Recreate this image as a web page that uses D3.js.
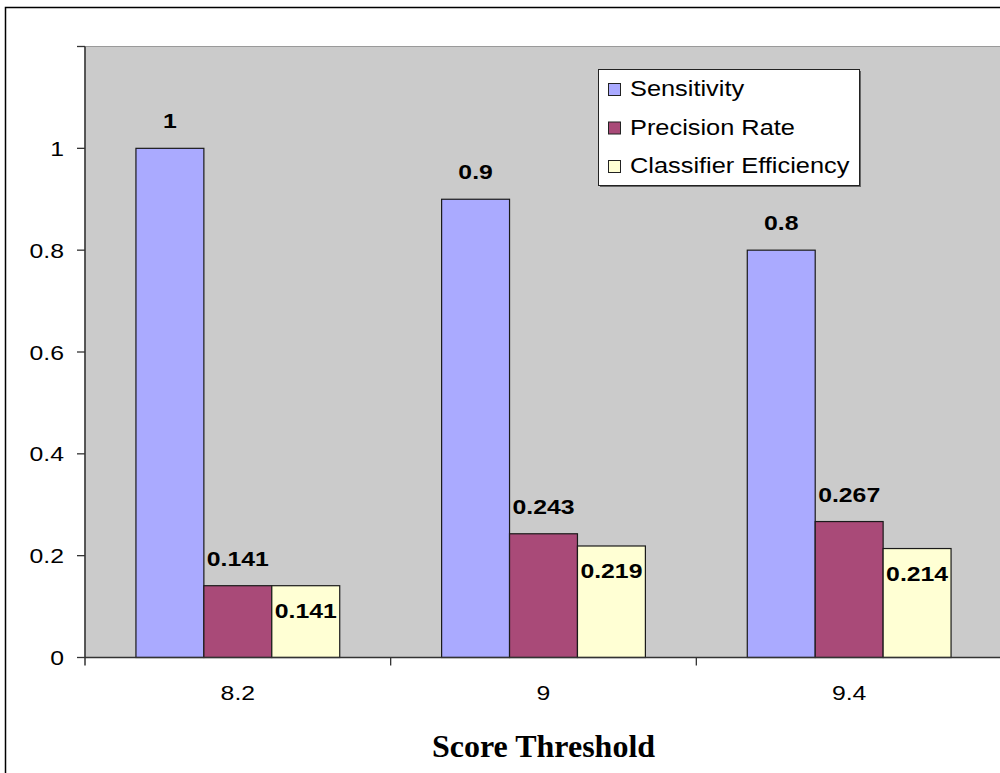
<!DOCTYPE html>
<html>
<head>
<meta charset="utf-8">
<script src="https://cdn.jsdelivr.net/npm/d3@7"></script>
<style>
  html, body { margin: 0; padding: 0; background: #fff; }
  svg { display: block; }
</style>
</head>
<body>
<svg id="chart" width="1000" height="773"></svg>
<script>
// Score thresholds on the category axis
const thresholds = ["8.2", "9", "9.4"];
// Series names and values per threshold
const seriesNames = ["Sensitivity", "Precision Rate", "Classifier Efficiency"];
const sensitivity = [1, 0.9, 0.8];
const precisionRate = [0.141, 0.243, 0.267];
const classifierEfficiency = [0.141, 0.219, 0.214];
// Value axis ticks
const yTicks = [0, 0.2, 0.4, 0.6, 0.8, 1, 1.2];
const yTickLabels = ["0", "0.2", "0.4", "0.6", "0.8", "1", ""];
const xTitle = "Score Threshold";

const seriesValues = [sensitivity, precisionRate, classifierEfficiency];
const colors = ["#AAAAFF", "#A94A78", "#FFFFD4"];

const svg = d3.select("#chart");
const SX = 1.18; // horizontal text stretch
const sans = "'Liberation Sans', Arial, sans-serif";

const plot = { left: 85, right: 1002, top: 46.5, bottom: 657.5 };

const x0 = d3.scaleBand().domain(thresholds).range([plot.left, plot.right]).padding(0);
const barW = x0.bandwidth() / 4.5;
const y = d3.scaleLinear().domain([0, 1.2]).range([plot.bottom, plot.top]);

function place(sel, x, yy) {
  return sel.attr("transform", `translate(${x},${yy}) scale(${SX},1)`);
}

// outer chart border
svg.append("rect")
  .attr("x", 5.5).attr("y", 7.5).attr("width", 1000).attr("height", 800)
  .attr("fill", "#fff").attr("stroke", "#000").attr("stroke-width", 1.5);

// plot area
svg.append("rect")
  .attr("x", plot.left).attr("y", plot.top)
  .attr("width", plot.right - plot.left).attr("height", plot.bottom - plot.top)
  .attr("fill", "#CBCBCB").attr("stroke", "#9a9a9a").attr("stroke-width", 1);

// bars
thresholds.forEach((t, i) => {
  const cx = x0(t) + x0.bandwidth() / 2;
  seriesValues.forEach((vals, s) => {
    const bx = cx - 1.5 * barW + s * barW;
    svg.append("rect")
      .attr("x", bx).attr("y", y(vals[i]))
      .attr("width", barW).attr("height", y(0) - y(vals[i]))
      .attr("fill", colors[s]).attr("stroke", "#1a1a1a").attr("stroke-width", 1.2);
  });
});

// data labels
thresholds.forEach((t, i) => {
  const cx = x0(t) + x0.bandwidth() / 2;
  seriesValues.forEach((vals, s) => {
    const lx = cx - 1.5 * barW + s * barW + barW / 2;
    const ly = s === 2 ? y(vals[i]) + 32 : y(vals[i]) - 20;
    place(svg.append("text"), lx, ly)
      .attr("text-anchor", "middle")
      .attr("font-family", sans).attr("font-weight", "bold").attr("font-size", 21)
      .attr("fill", "#000")
      .text(String(vals[i]));
  });
});

// y axis
svg.append("line")
  .attr("x1", plot.left).attr("x2", plot.left)
  .attr("y1", plot.top).attr("y2", plot.bottom + 8)
  .attr("stroke", "#333").attr("stroke-width", 1.5);
yTicks.forEach((v, i) => {
  svg.append("line")
    .attr("x1", plot.left - 8).attr("x2", plot.left)
    .attr("y1", y(v)).attr("y2", y(v))
    .attr("stroke", "#333").attr("stroke-width", 1.3);
  place(svg.append("text"), 64, y(v) + 7.5)
    .attr("text-anchor", "end")
    .attr("font-family", sans).attr("font-size", 21).attr("fill", "#000")
    .text(yTickLabels[i]);
});

// x axis
svg.append("line")
  .attr("x1", plot.left).attr("x2", plot.right)
  .attr("y1", plot.bottom).attr("y2", plot.bottom)
  .attr("stroke", "#333").attr("stroke-width", 1.5);
thresholds.forEach((t, i) => {
  const edge = x0(t) + x0.bandwidth();
  svg.append("line")
    .attr("x1", edge).attr("x2", edge)
    .attr("y1", plot.bottom).attr("y2", plot.bottom + 8)
    .attr("stroke", "#333").attr("stroke-width", 1.3);
  place(svg.append("text"), x0(t) + x0.bandwidth() / 2, 700)
    .attr("text-anchor", "middle")
    .attr("font-family", sans).attr("font-size", 21).attr("fill", "#000")
    .text(t);
});

// axis title
svg.append("text")
  .attr("x", (plot.left + plot.right) / 2).attr("y", 757)
  .attr("text-anchor", "middle")
  .attr("font-family", "'Liberation Serif', 'Times New Roman', serif")
  .attr("font-weight", "bold").attr("font-size", 32).attr("fill", "#000")
  .text(xTitle);

// legend
const lg = { x: 598.5, y: 69.5, w: 261, h: 116 };
svg.append("rect")
  .attr("x", lg.x + 1.5).attr("y", lg.y + 1.5).attr("width", lg.w).attr("height", lg.h)
  .attr("fill", "#666");
svg.append("rect")
  .attr("x", lg.x).attr("y", lg.y).attr("width", lg.w).attr("height", lg.h)
  .attr("fill", "#fff").attr("stroke", "#222").attr("stroke-width", 1);
seriesNames.forEach((name, s) => {
  const base = 96 + s * 38.5;
  svg.append("rect")
    .attr("x", 608.5).attr("y", base - 12.5).attr("width", 12).attr("height", 12)
    .attr("fill", colors[s]).attr("stroke", "#222").attr("stroke-width", 1);
  place(svg.append("text"), 630, base)
    .attr("font-family", sans).attr("font-size", 21.5).attr("fill", "#000")
    .text(name);
});
</script>
</body>
</html>
